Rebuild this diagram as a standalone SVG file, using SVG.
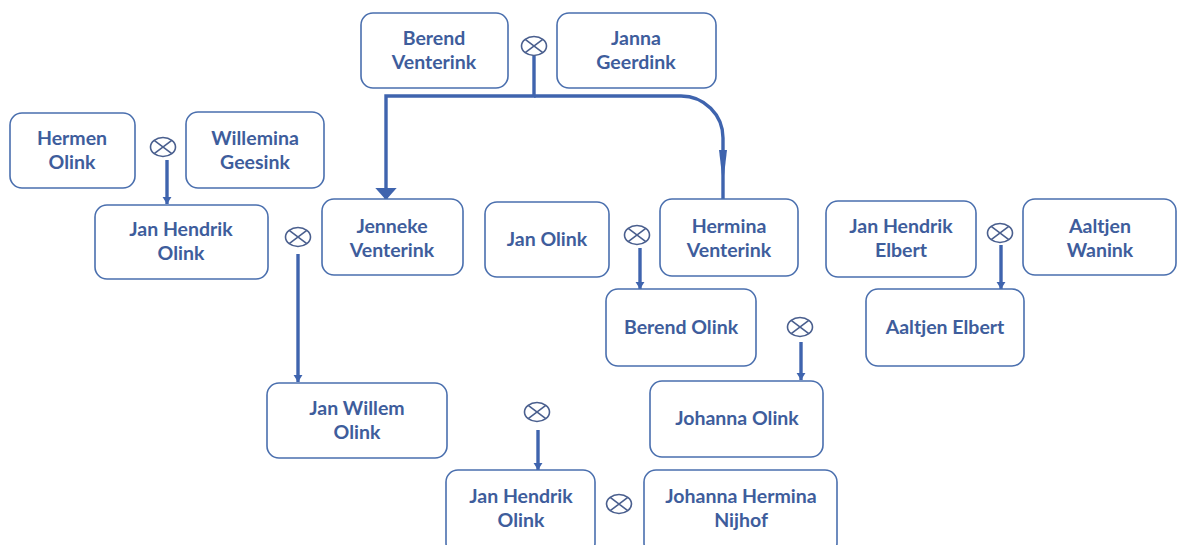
<svg xmlns="http://www.w3.org/2000/svg" width="1177" height="545" viewBox="0 0 1177 545">
<style>
.box{fill:#fff;stroke:#4a6fae;stroke-width:1.6}
.t{font-family:Lato,"Liberation Sans",sans-serif;font-weight:bold;font-size:19.5px;fill:#3e5d9c;text-anchor:middle}
.ln{fill:none;stroke:#3f64ae;stroke-width:3.4}
.mk{fill:none;stroke:#4a5f8e;stroke-width:1.6}
</style>
<defs>
<marker id="sa" viewBox="0 0 10 10" refX="10" refY="5" markerWidth="2.2" markerHeight="2.8" markerUnits="strokeWidth" orient="auto" preserveAspectRatio="none"><path d="M0,0L10,5L0,10Z" fill="#3f64ae"/></marker>
<marker id="ba" viewBox="0 0 10 10" refX="10" refY="5" markerWidth="3.6" markerHeight="6.4" markerUnits="strokeWidth" orient="auto" preserveAspectRatio="none"><path d="M0,0L10,5L0,10Z" fill="#3f64ae"/></marker>
<g id="x"><ellipse class="mk" cx="0" cy="0" rx="12.5" ry="9.5"/><path class="mk" d="M-8.8,-6.7L8.8,6.7M-8.8,6.7L8.8,-6.7"/></g>
</defs>
<rect width="1177" height="545" fill="#fff"/>
<g id="connectors">
<path class="ln" d="M534,56V96H386V200" marker-end="url(#ba)"/>
<path class="ln" d="M534,96H681A42,42 0 0 1 723,138V199"/>
<path d="M719,150L727,150L723,184Z" fill="#3f64ae"/>
<path class="ln" d="M167,160V204" marker-end="url(#sa)"/>
<path class="ln" d="M298,254V382" marker-end="url(#sa)"/>
<path class="ln" d="M640,248V289" marker-end="url(#sa)"/>
<path class="ln" d="M801,342V380" marker-end="url(#sa)"/>
<path class="ln" d="M1001,245V289" marker-end="url(#sa)"/>
<path class="ln" d="M538,430V470" marker-end="url(#sa)"/>
</g>
<g id="unions">
<use href="#x" x="534" y="46"/>
<use href="#x" x="163" y="147"/>
<use href="#x" x="298" y="237"/>
<use href="#x" x="637" y="235"/>
<use href="#x" x="800" y="327"/>
<use href="#x" x="1000" y="233"/>
<use href="#x" x="537" y="412"/>
<use href="#x" x="619" y="504"/>
</g>
<g id="n-berend-venterink"><rect class="box" x="361" y="13" width="147" height="75" rx="12"/><text class="t" x="434" y="45">Berend</text><text class="t" x="434" y="69">Venterink</text></g>
<g id="n-janna-geerdink"><rect class="box" x="557" y="13" width="159" height="75" rx="12"/><text class="t" x="636" y="45">Janna</text><text class="t" x="636" y="69">Geerdink</text></g>
<g id="n-hermen-olink"><rect class="box" x="10" y="113" width="125" height="75" rx="12"/><text class="t" x="72" y="145">Hermen</text><text class="t" x="72" y="169">Olink</text></g>
<g id="n-willemina-geesink"><rect class="box" x="186" y="112" width="138" height="76" rx="12"/><text class="t" x="255" y="145">Willemina</text><text class="t" x="255" y="169">Geesink</text></g>
<g id="n-jan-hendrik-olink-1"><rect class="box" x="95" y="205" width="173" height="74" rx="12"/><text class="t" x="181" y="236">Jan Hendrik</text><text class="t" x="181" y="260">Olink</text></g>
<g id="n-jenneke-venterink"><rect class="box" x="322" y="199" width="141" height="76" rx="12"/><text class="t" x="392" y="233">Jenneke</text><text class="t" x="392" y="257">Venterink</text></g>
<g id="n-jan-olink"><rect class="box" x="485" y="202" width="124" height="75" rx="12"/><text class="t" x="547" y="246">Jan Olink</text></g>
<g id="n-hermina-venterink"><rect class="box" x="660" y="199" width="138" height="77" rx="12"/><text class="t" x="729" y="233">Hermina</text><text class="t" x="729" y="257">Venterink</text></g>
<g id="n-jan-hendrik-elbert"><rect class="box" x="826" y="201" width="150" height="76" rx="12"/><text class="t" x="901" y="233">Jan Hendrik</text><text class="t" x="901" y="257">Elbert</text></g>
<g id="n-aaltjen-wanink"><rect class="box" x="1023" y="199" width="153" height="76" rx="12"/><text class="t" x="1100" y="233">Aaltjen</text><text class="t" x="1100" y="257">Wanink</text></g>
<g id="n-berend-olink"><rect class="box" x="606" y="289" width="150" height="77" rx="12"/><text class="t" x="681" y="334">Berend Olink</text></g>
<g id="n-aaltjen-elbert"><rect class="box" x="866" y="289" width="158" height="77" rx="12"/><text class="t" x="945" y="334">Aaltjen Elbert</text></g>
<g id="n-jan-willem-olink"><rect class="box" x="267" y="383" width="180" height="75" rx="12"/><text class="t" x="357" y="415">Jan Willem</text><text class="t" x="357" y="439">Olink</text></g>
<g id="n-johanna-olink"><rect class="box" x="650" y="381" width="173" height="76" rx="12"/><text class="t" x="737" y="425">Johanna Olink</text></g>
<g id="n-jan-hendrik-olink-2"><rect class="box" x="446" y="470" width="149" height="85" rx="12"/><text class="t" x="521" y="503">Jan Hendrik</text><text class="t" x="521" y="527">Olink</text></g>
<g id="n-johanna-hermina-nijhof"><rect class="box" x="644" y="470" width="193" height="85" rx="12"/><text class="t" x="741" y="503">Johanna Hermina</text><text class="t" x="741" y="527">Nijhof</text></g>
</svg>
